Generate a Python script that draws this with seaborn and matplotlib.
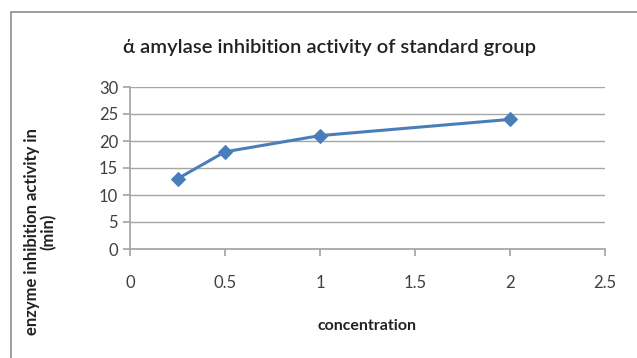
import matplotlib
matplotlib.use("Agg")
import matplotlib.pyplot as plt
import seaborn as sns
import pandas as pd
from matplotlib.patches import Rectangle

concentration = [0.25, 0.5, 1, 2]
activity = [13, 18, 21, 24]
x_ticks = [0, 0.5, 1, 1.5, 2, 2.5]
x_tick_labels = ["0", "0.5", "1", "1.5", "2", "2.5"]
y_ticks = [0, 5, 10, 15, 20, 25, 30]

sns.set_theme(style="white")
plt.rcParams['font.family'] = ['Lato', 'DejaVu Sans']

df = pd.DataFrame({"concentration": concentration, "activity": activity})

fig = plt.figure(figsize=(6.37, 3.58), dpi=100)
ax = fig.add_axes([130/637, 1-249/358, (605-130)/637, (249-87)/358])

sns.lineplot(data=df, x="concentration", y="activity", ax=ax, color="#4A7EBB",
             marker="D", markersize=7, linewidth=2.2, markeredgecolor="#4A7EBB")

ax.set_xlim(0, 2.5)
ax.set_ylim(0, 30)
ax.set_xticks(x_ticks)
ax.set_xticklabels(x_tick_labels)
ax.set_yticks(y_ticks)
ax.yaxis.grid(True, color="#A6A6A6", linewidth=1)
ax.xaxis.grid(False)
for s in ["top", "right"]:
    ax.spines[s].set_visible(False)
ax.spines["left"].set_color("#A6A6A6")
ax.spines["bottom"].set_color("#A6A6A6")
ax.tick_params(axis="both", which="both", direction="out", length=5, color="#A6A6A6",
               labelsize=12, labelcolor="#404040", left=True, bottom=True)
ax.tick_params(axis="x", pad=14)
ax.set_xlabel("concentration", fontsize=11.5, fontweight="bold", color="#222222", labelpad=20)
ax.set_ylabel("")

fig.text(330/637, 1-47/358, "\u03ac amylase inhibition activity of standard group",
         ha="center", va="center", fontsize=14.5, fontweight="semibold", color="#222222")
fig.text(40/637, 1-232/358, "enzyme inhibition activity in\n(min)", rotation=90,
         ha="center", va="center", fontsize=12, fontweight="bold", color="#222222",
         linespacing=1.05)

fig.patches.append(Rectangle((11/637, -0.1), 1.0, 1-12/358+0.1, transform=fig.transFigure,
                             fill=False, edgecolor="#8C8C8C", linewidth=1.2))

fig.savefig("out.png", dpi=100)
